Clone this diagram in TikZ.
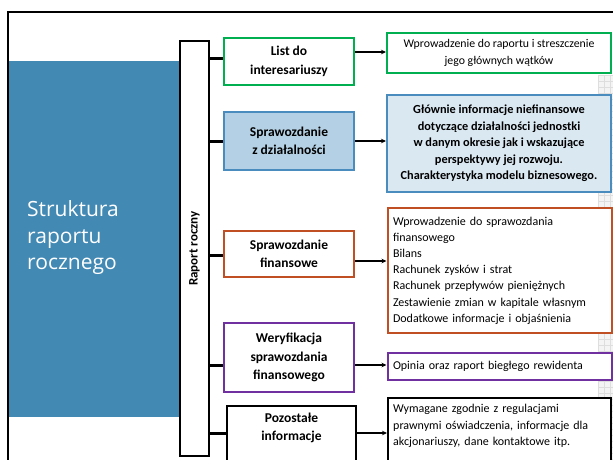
\documentclass[tikz,border=0pt]{standalone}
\usepackage{fontspec}
\setmainfont{Carlito}
\newfontfamily\titlefont{Open Sans}
\usetikzlibrary{arrows.meta}
\definecolor{panelblue}{RGB}{66,137,180}
\definecolor{grn}{RGB}{0,176,80}
\definecolor{bluebd}{RGB}{74,140,190}
\definecolor{bluefillA}{RGB}{180,208,228}
\definecolor{bluefillB}{RGB}{218,232,242}
\definecolor{orng}{RGB}{192,80,35}
\definecolor{purp}{RGB}{112,48,160}
\definecolor{gridbg}{RGB}{244,244,244}
\definecolor{gridln}{RGB}{222,222,222}
\begin{document}
\begin{tikzpicture}[x=1pt,y=-1pt,
  lbox/.style={draw, line width=2pt, fill=white, minimum width=130pt, align=center,
    font=\fontsize{13.5}{18.5}\selectfont\bfseries, inner sep=0pt},
  rbox/.style={draw, line width=2pt, fill=white, minimum width=224pt, inner sep=0pt},
  rtext/.style={font=\fontsize{12}{16.2}\selectfont},
  stub/.style={line width=3pt},
  arr/.style={line width=1.2pt, -{Stealth[length=5pt,width=4.5pt]}},
]
\useasboundingbox (0,0) rectangle (613,459);
\clip (0,0) rectangle (613,459);
\fill[white] (0,0) rectangle (613,459);
% right grid
\fill[gridbg] (598,75) rectangle (613,459);
\begin{scope}
\clip (598,75) rectangle (613,459);
\foreach \gx in {598,604,...,614} {\draw[gridln, line width=0.5pt] (\gx,75) -- (\gx,459);}
\foreach \gy in {75,81,...,459} {\draw[gridln, line width=0.5pt] (598,\gy) -- (613,\gy);}
\end{scope}
% frame
\draw[line width=2pt] (8,470) -- (8,12) -- (620,12);
% blue panel
\fill[panelblue] (9,61) rectangle (180,417);
\node[font=\titlefont\fontsize{21}{26.5}\selectfont, text=white, align=left, anchor=west, inner sep=0pt]
  (title) at (27,238) {Struktura\\raportu\\rocznego};
% bar
\node[draw, line width=2pt, fill=white, minimum width=29pt, minimum height=415pt, inner sep=0pt]
  (bar) at (194.5,248.5) {};
\node[rotate=90, font=\fontsize{13}{15}\selectfont\bfseries] (barlbl) at (bar.center) {Raport roczny};
% left boxes
\node[lbox, draw=grn, minimum height=47pt] (l1) at (289,61.5) {List do\\interesariuszy};
\node[lbox, draw=bluebd, fill=bluefillA, minimum height=58pt] (l2) at (289,141) {Sprawozdanie\\z działalności};
\node[lbox, draw=orng, minimum height=46pt] (l3) at (289,254) {Sprawozdanie\\finansowe};
\node[lbox, draw=purp, minimum height=69pt] (l4) at (289,357.5) {Weryfikacja\\sprawozdania\\finansowego};
\node[lbox, draw=black, minimum width=129pt, minimum height=64pt] (l5) at (291.5,438) {};
\node[align=center, font=\fontsize{13.5}{18.5}\selectfont\bfseries] (l5t) at (291.5,428) {Pozostałe\\informacje};
% right boxes
\node[rbox, draw=grn, minimum height=40pt, align=center, font=\fontsize{11.8}{16.5}\selectfont] (r1) at (499,53)
  {Wprowadzenie do raportu i streszczenie\\jego głównych wątków};
\node[rbox, draw=bluebd, fill=bluefillB, minimum height=97pt, align=center,
  font=\fontsize{12.3}{16.5}\selectfont\bfseries] (r2) at (499,143.5)
  {Głównie informacje niefinansowe\\dotyczące działalności jednostki\\w danym okresie jak i wskazujące\\perspektywy jej rozwoju.\\Charakterystyka modelu biznesowego.};
\node[rbox, draw=orng, minimum height=125pt, align=left, text width=213pt, inner xsep=5pt, rtext] (r3) at (499.5,270.5)
  {Wprowadzenie do sprawozdania\\finansowego\\Bilans\\Rachunek zysków i strat\\Rachunek przepływów pieniężnych\\Zestawienie zmian w kapitale własnym\\Dodatkowe informacje i objaśnienia};
\node[rbox, draw=purp, minimum height=27pt, align=left, text width=213pt, inner xsep=5pt, rtext] (r4) at (499.5,366.5)
  {Opinia oraz raport biegłego rewidenta};
\node[rbox, draw=black, minimum width=223pt, minimum height=72pt] (r5) at (499.5,434) {};
\node[align=left, text width=213pt, inner sep=0pt, rtext, anchor=west] (r5t) at (393,426)
  {Wymagane zgodnie z regulacjami\\prawnymi oświadczenia, informacje dla\\akcjonariuszy, dane kontaktowe itp.};
% stubs
\coordinate (s1) at (0,58);
\coordinate (s2) at (0,141);
\coordinate (s3) at (0,255);
\coordinate (s4) at (0,365);
\coordinate (s5) at (0,433);
\draw[stub] (bar.east |- s1) -- (l1.west |- s1);
\draw[stub] (bar.east |- s2) -- (l2.west |- s2);
\draw[stub] (bar.east |- s3) -- (l3.west |- s3);
\draw[stub] (bar.east |- s4) -- (l4.west |- s4);
\draw[stub] (bar.east |- s5) -- (l5.west |- s5);
% arrows
\coordinate (a1) at (0,52);
\coordinate (a2) at (0,141);
\coordinate (a3) at (0,261);
\coordinate (a4) at (0,365);
\coordinate (a5) at (0,433);
\draw[arr] (l1.east |- a1) -- (r1.west |- a1);
\draw[arr] (l2.east |- a2) -- (r2.west |- a2);
\draw[arr] (l3.east |- a3) -- (r3.west |- a3);
\draw[arr] (l4.east |- a4) -- (r4.west |- a4);
\draw[arr] (l5.east |- a5) -- (r5.west |- a5);
\end{tikzpicture}
\end{document}
